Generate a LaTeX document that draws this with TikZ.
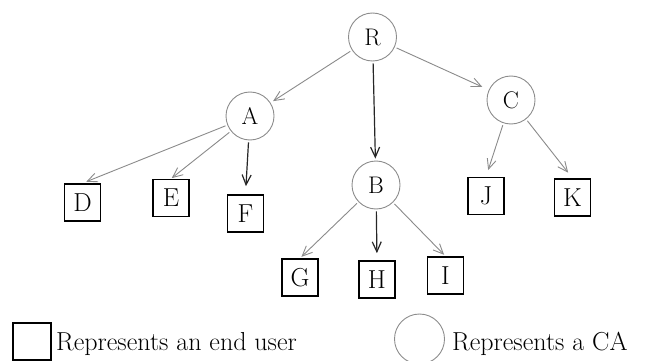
\documentclass[tikz,border=0pt]{standalone}
\usepackage{fontspec}
\usetikzlibrary{arrows.meta}
\definecolor{ringgray}{HTML}{8C8C8C}
\definecolor{linkgray}{HTML}{8A8A8A}
\begin{document}
\begin{tikzpicture}[x=1pt,y=-1pt,
  font=\fontsize{26}{30}\selectfont,
  ca/.style={circle,draw=ringgray,line width=0.9pt,minimum size=48pt,inner sep=0pt,
             font=\fontsize{24}{28}\selectfont},
  user/.style={draw=black,line width=1.6pt,minimum width=36pt,minimum height=37pt,inner sep=0pt},
  link/.style={draw=linkgray,line width=0.9pt,-{Straight Barb[length=10pt,width=9pt]},shorten <=2pt},
  darklink/.style={link,draw=black!85,line width=1.2pt}]
\useasboundingbox (0,0) rectangle (648,361);

% certification authorities
\node[ca] (R) at (372.5,37) {R};
\node[ca] (A) at (250,116) {A};
\node[ca] (B) at (376,185) {B};
\node[ca] (C) at (511,100) {C};

% end users
\node[user] (D) at (82.5,202.5) {D};
\node[user] (E) at (171,198) {E};
\node[user] (F) at (245.5,213.5) {F};
\node[user] (G) at (300,277.5) {G};
\node[user] (H) at (377,279.5) {H};
\node[user] (I) at (445.5,275.5) {I};
\node[user] (J) at (486,196) {J};
\node[user] (K) at (572.5,197.5) {K};

% certification links
\draw[link,shorten >=3pt] (R) -- (A);
\draw[darklink,shorten >=2pt] (R) -- (B);
\draw[link,shorten >=7pt] (R) -- (C);
\draw[link,shorten >=4pt] (A) -- (D.north);
\draw[link,shorten >=1pt] (A) -- (E.north);
\draw[darklink,shorten >=8pt] (A) -- (F.north);
\draw[link,shorten >=2pt] (B) -- (G.north);
\draw[darklink,shorten >=7pt] (B) -- (H.north);
\draw[link,shorten >=2pt] (B) -- (I.north);
\draw[link,shorten >=7pt] (C) -- (J.north);
\draw[link,shorten >=7pt] (C) -- (K.north);

% key
\node[user,minimum width=38pt] (keyuser) at (32,341.5) {};
\node[anchor=base west,inner sep=0pt] (keyusertext) at (56,350) {Represents an end user};
\node[ca,minimum size=50pt] (keyca) at (419.5,339) {};
\node[anchor=base west,inner sep=0pt] (keycatext) at (452,350) {Represents a CA};
\end{tikzpicture}
\end{document}
